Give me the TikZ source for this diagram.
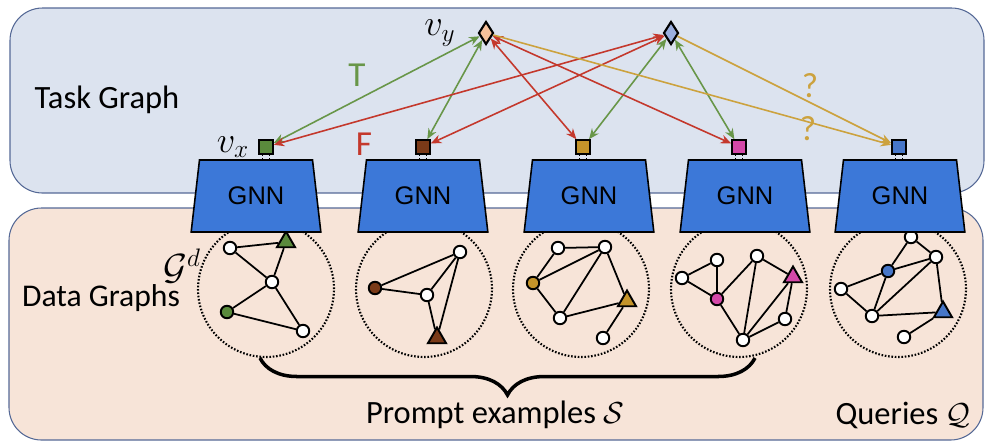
\documentclass[tikz,border=0pt]{standalone}
\usepackage{amsmath, amssymb}
\usepackage{fontspec}
\setmainfont{Carlito}
\newfontfamily\gnnfont{Liberation Sans}
\usetikzlibrary{shapes.geometric, arrows.meta, decorations.pathreplacing}

\definecolor{taskbg}{RGB}{220,227,239}
\definecolor{databg}{RGB}{247,228,216}
\definecolor{panelline}{RGB}{85,105,150}
\definecolor{gnnblue}{RGB}{60,120,216}
\definecolor{tgreen}{RGB}{104,150,72}
\definecolor{fred}{RGB}{196,56,44}
\definecolor{qgold}{RGB}{204,162,62}
\definecolor{cgreen}{RGB}{90,138,60}
\definecolor{cbrown}{RGB}{122,58,24}
\definecolor{cgold}{RGB}{196,148,42}
\definecolor{cpink}{RGB}{212,72,168}
\definecolor{cblue}{RGB}{70,118,200}
\definecolor{dorange}{RGB}{245,192,155}
\definecolor{dblue}{RGB}{155,175,222}

\begin{document}
\begin{tikzpicture}[x=0.02cm, y=-0.02cm,
  panel/.style={draw=panelline, line width=0.6pt, rounded corners=0.65cm},
  gnnbox/.style={trapezium, trapezium stretches=true, trapezium left angle=77, trapezium right angle=77, minimum width=2.6cm, minimum height=1.44cm, fill=gnnblue, draw=black, line width=0.9pt, inner sep=0pt, font=\gnnfont\fontsize{14.5}{16}\selectfont},
  xnode/.style={rectangle, draw=black, line width=1.2pt, minimum size=0.27cm, inner sep=0pt},
  ynode/.style={diamond, draw=black, line width=1.2pt, minimum width=0.3cm, minimum height=0.46cm, inner sep=0pt},
  dgraph/.style={circle, draw=black, dash pattern=on 0.9pt off 1pt, line width=1.2pt, minimum size=2.72cm, inner sep=0pt},
  vtx/.style={circle, draw=black, fill=white, line width=1.1pt, minimum size=0.25cm, inner sep=0pt},
  tri/.style={regular polygon, regular polygon sides=3, draw=black, line width=1.1pt, minimum size=0.42cm, inner sep=0pt},
  gedge/.style={line width=1pt},
  tfarrow/.style={line width=0.9pt, {Stealth[length=6pt,width=5pt]}-{Stealth[length=6pt,width=5pt]}},
  qarrow/.style={line width=0.9pt, qgold, -{Stealth[length=6pt,width=5pt]}},
  lbl/.style={font=\fontsize{18.5}{20}\selectfont},
  mlbl/.style={font=\fontsize{20}{22}\selectfont}
]
  \useasboundingbox (0,0) rectangle (986,441);

  % panels
  \draw[panel, fill=taskbg] (10,8) rectangle (984,193);
  \draw[panel, fill=databg] (9,208) rectangle (983,440);
  \node[lbl] (tasklbl) at (107,100) {Task Graph};
  \node[lbl, font=\fontsize{18}{20}\selectfont] (datalbl) at (101,298) {Data Graphs};

  % data graphs
  \node[dgraph] (dg1) at (266,289) {};
  \node[dgraph] (dg2) at (424,289) {};
  \node[dgraph] (dg3) at (581,289) {};
  \node[dgraph] (dg4) at (739,289) {};
  \node[dgraph] (dg5) at (898,289) {};
  \node[mlbl] (gdlbl) at (182,266) {$\mathcal{G}^d$};

  \node[vtx] (a1) at (230,248) {};
  \node[tri, fill=cgreen] (a2) at (286,242) {};
  \node[vtx] (a3) at (272,282) {};
  \node[vtx, fill=cgreen] (a4) at (227,312) {};
  \node[vtx] (a5) at (303,331) {};
  \draw[gedge] (a1) -- (a2) (a1) -- (a3) (a2) -- (a3) (a3) -- (a4) (a3) -- (a5) (a4) -- (a5);

  \node[vtx, fill=cbrown] (b1) at (375,288) {};
  \node[vtx] (b2) at (460,252) {};
  \node[vtx] (b3) at (427,295) {};
  \node[tri, fill=cbrown] (b4) at (437,338) {};
  \draw[gedge] (b1) -- (b2) (b1) -- (b3) (b3) -- (b2) (b3) -- (b4) (b2) -- (b4);

  \node[vtx] (c1) at (558,248) {};
  \node[vtx] (c2) at (605,247) {};
  \node[vtx, fill=cgold] (c3) at (533,283) {};
  \node[tri, fill=cgold] (c4) at (627,301) {};
  \node[vtx] (c5) at (560,318) {};
  \node[vtx] (c6) at (603,338) {};
  \draw[gedge] (c1) -- (c2) (c3) -- (c1) (c3) -- (c2) (c2) -- (c5) (c2) -- (c4) (c3) -- (c5) (c5) -- (c4) (c4) -- (c6);

  \node[vtx] (d1) at (682,278) {};
  \node[vtx] (d2) at (717,260) {};
  \node[vtx, fill=cpink] (d3) at (717,299) {};
  \node[vtx] (d4) at (757,256) {};
  \node[tri, fill=cpink] (d5) at (793,277) {};
  \node[vtx] (d6) at (785,319) {};
  \node[vtx] (d7) at (743,340) {};
  \draw[gedge] (d1) -- (d2) (d1) -- (d3) (d2) -- (d3) (d3) -- (d4) (d3) -- (d7) (d4) -- (d7)
    (d4) -- (d5) (d5) -- (d7) (d5) -- (d6) (d6) -- (d7);

  \node[vtx] (e1) at (911,237) {};
  \node[vtx] (e2) at (936,257) {};
  \node[vtx, fill=cblue] (e3) at (888,271) {};
  \node[vtx] (e4) at (841,289) {};
  \node[vtx] (e5) at (872,316) {};
  \node[tri, fill=cblue] (e6) at (943,312) {};
  \node[vtx] (e7) at (904,337) {};
  \draw[gedge] (e1) -- (e3) (e1) -- (e2) (e3) -- (e2) (e3) -- (e4) (e3) -- (e5) (e4) -- (e5)
    (e2) -- (e5) (e2) -- (e6) (e5) -- (e6) (e6) -- (e7);

  % GNN encoders
  \node[gnnbox] (gnn1) at (256,196) {GNN};
  \node[gnnbox] (gnn2) at (423,196) {GNN};
  \node[gnnbox] (gnn3) at (589,196) {GNN};
  \node[gnnbox] (gnn4) at (745,196) {GNN};
  \node[gnnbox] (gnn5) at (900,196) {GNN};

  % task graph nodes
  \node[xnode, fill=cgreen] (x1) at (266,147) {};
  \node[xnode, fill=cbrown] (x2) at (423,147) {};
  \node[xnode, fill=cgold] (x3) at (583,147) {};
  \node[xnode, fill=cpink] (x4) at (739,147) {};
  \node[xnode, fill=cblue] (x5) at (899,147) {};
  \node[ynode, fill=dorange] (yA) at (486,33) {};
  \node[ynode, fill=dblue] (yB) at (671,33) {};
  \node[mlbl] (vxlbl) at (233,147) {$v_x$};
  \node[mlbl] (vylbl) at (440,33) {$v_y$};

  \foreach \i in {1,...,5} {
    \draw[densely dotted, line width=0.7pt] ([xshift=-1.8pt]x\i.south) -- ([xshift=-1.8pt]x\i.south |- gnn\i.north);
    \draw[densely dotted, line width=0.7pt] ([xshift=1.8pt]x\i.south) -- ([xshift=1.8pt]x\i.south |- gnn\i.north);
  }

  % edges of the task graph
  \draw[tfarrow, tgreen] (yA) -- (x1);
  \draw[tfarrow, tgreen] (yA) -- (x2);
  \draw[tfarrow, tgreen] (yB) -- (x3);
  \draw[tfarrow, tgreen] (yB) -- (x4);
  \draw[tfarrow, fred] (yB) -- (x1);
  \draw[tfarrow, fred] (yB) -- (x2);
  \draw[tfarrow, fred] (yA) -- (x3);
  \draw[tfarrow, fred] (yA) -- (x4);
  \draw[qarrow] (yA) -- (x5);
  \draw[qarrow] (yB) -- (x5);
  \node[lbl, font=\fontsize{20}{22}\selectfont, text=tgreen] (tlbl) at (357,75) {T};
  \node[lbl, font=\fontsize{20}{22}\selectfont, text=fred] (flbl) at (364,144) {F};
  \node[lbl, font=\fontsize{20}{22}\selectfont, text=qgold] (q1lbl) at (810,86) {?};
  \node[lbl, font=\fontsize{20}{22}\selectfont, text=qgold] (q2lbl) at (808,129) {?};

  % prompt examples and queries
  \coordinate (brl) at (260,358);
  \coordinate (brr) at (755,358);
  \draw[line width=2pt, decorate, decoration={brace, mirror, amplitude=0.74cm}] (brl) -- (brr);
  \node[lbl] (promptlbl) at (495,415) {Prompt examples $\mathcal{S}$};
  \node[lbl] (querylbl) at (903,415) {Queries $\mathcal{Q}$};
\end{tikzpicture}
\end{document}
